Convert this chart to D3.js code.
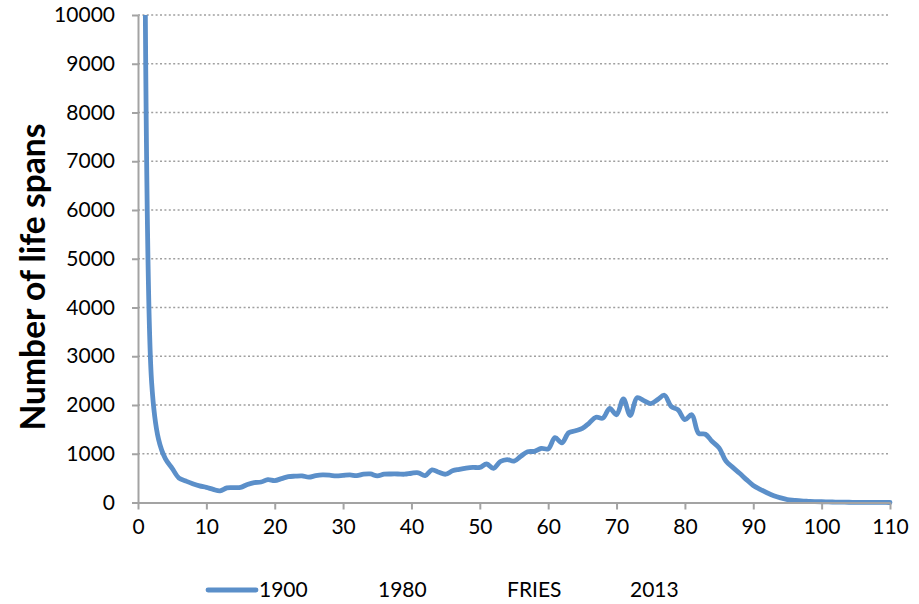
<!DOCTYPE html>
<html>
<head>
<meta charset="utf-8">
<script src="https://cdn.jsdelivr.net/npm/d3@7"></script>
<style>
  html, body { margin: 0; padding: 0; background: #ffffff; }
  svg { display: block; }
</style>
</head>
<body>
<svg id="chart" width="919" height="604"></svg>
<script>
// ---- data ----
const ages = d3.range(1, 111);
const deaths1900 = [
  12000, 2450, 1300, 900, 700, 500, 440, 385, 340, 310,
  270, 240, 300, 305, 310, 370, 410, 420, 470, 450,
  490, 530, 540, 545, 520, 550, 565, 560, 545, 555,
  565, 550, 580, 585, 545, 580, 585, 585, 580, 600,
  610, 550, 670, 620, 580, 650, 680, 705, 720, 720,
  790, 700, 840, 880, 850, 950, 1040, 1050, 1110, 1100,
  1330, 1225, 1430, 1470, 1520, 1630, 1750, 1730, 1930, 1800,
  2125, 1785, 2150, 2090, 2030, 2110, 2200, 1970, 1900, 1700,
  1800, 1420, 1400, 1250, 1120, 850, 720, 600, 470, 350,
  270, 200, 140, 95, 60, 45, 32, 25, 20, 15,
  12, 9, 7, 5, 4, 3, 2, 1, 1, 0
];
const xTicks = [0, 10, 20, 30, 40, 50, 60, 70, 80, 90, 100, 110];
const yTicks = [0, 1000, 2000, 3000, 4000, 5000, 6000, 7000, 8000, 9000, 10000];
const legendLabels = ["1900", "1980", "FRIES", "2013"];
const yTitle = "Number of life spans";

// ---- layout ----
const svg = d3.select("#chart");
const pL = 138, pR = 890, pT = 15, pB = 502.5;
const x = d3.scaleLinear().domain([0, 110]).range([pL, pR]);
const y = d3.scaleLinear().domain([0, 10000]).range([pB, pT]);
const font = "Lato, 'Open Sans', sans-serif";
const axisColor = "#a3a3a3";
const lineColor = "#5b8fc9";
const tickFont = 21;

svg.append("rect").attr("width", 919).attr("height", 604).attr("fill", "#fff");

// gridlines
svg.append("g").selectAll("line")
  .data(yTicks.filter(d => d > 0))
  .join("line")
  .attr("x1", pL).attr("x2", pR)
  .attr("y1", d => y(d)).attr("y2", d => y(d))
  .attr("stroke", "#a0a0a0")
  .attr("stroke-width", 1.7)
  .attr("stroke-dasharray", "2,2.4");

// clip
svg.append("clipPath").attr("id", "plot")
  .append("rect").attr("x", pL - 5).attr("y", pT).attr("width", pR - pL + 10).attr("height", pB - pT + 5);

// line
const line = d3.line()
  .x((d, i) => x(ages[i]))
  .y(d => y(d))
  .curve(d3.curveCatmullRom.alpha(0.5));

svg.append("path")
  .datum(deaths1900)
  .attr("clip-path", "url(#plot)")
  .attr("d", line)
  .attr("fill", "none")
  .attr("stroke", lineColor)
  .attr("stroke-width", 4.8)
  .attr("stroke-linejoin", "round")
  .attr("stroke-linecap", "round");

// x axis
const xAxis = svg.append("g")
  .attr("transform", `translate(0,${pB})`)
  .call(d3.axisBottom(x).tickValues(xTicks).tickSize(7).tickSizeOuter(0).tickPadding(10).tickFormat(d3.format("d")));
xAxis.select(".domain").attr("stroke", axisColor).attr("stroke-width", 2);
xAxis.selectAll(".tick line").attr("stroke", axisColor).attr("stroke-width", 2);
xAxis.selectAll(".tick text").attr("fill", "#000").attr("font-family", font).attr("font-size", tickFont);

// y axis
const yAxis = svg.append("g")
  .attr("transform", `translate(${pL},0)`)
  .call(d3.axisLeft(y).tickValues(yTicks).tickSize(6).tickSizeOuter(0).tickPadding(17).tickFormat(d3.format("d")));
yAxis.select(".domain").attr("stroke", axisColor).attr("stroke-width", 2);
yAxis.selectAll(".tick line").attr("stroke", axisColor).attr("stroke-width", 2);
yAxis.selectAll(".tick text").attr("fill", "#000").attr("font-family", font).attr("font-size", tickFont);

// y title (sized so its length matches the reference, ~307px)
const title = svg.append("text")
  .attr("transform", "translate(45,277) rotate(-90)")
  .attr("text-anchor", "middle")
  .attr("font-family", font)
  .attr("font-weight", "bold")
  .attr("font-size", 30)
  .attr("fill", "#000")
  .text(yTitle);
const tl = title.node().getComputedTextLength();
if (tl > 0) title.attr("font-size", 30 * 307 / tl);

// legend
const legendX = [259, 378, 507, 630];
const lg = svg.append("g");
lg.append("line")
  .attr("x1", 208).attr("x2", 256).attr("y1", 590).attr("y2", 590)
  .attr("stroke", lineColor).attr("stroke-width", 4.8).attr("stroke-linecap", "round");
lg.selectAll("text").data(legendLabels).join("text")
  .attr("x", (d, i) => legendX[i])
  .attr("y", 597)
  .attr("font-family", font)
  .attr("font-size", tickFont)
  .attr("fill", "#000")
  .text(d => d);
</script>
</body>
</html>
